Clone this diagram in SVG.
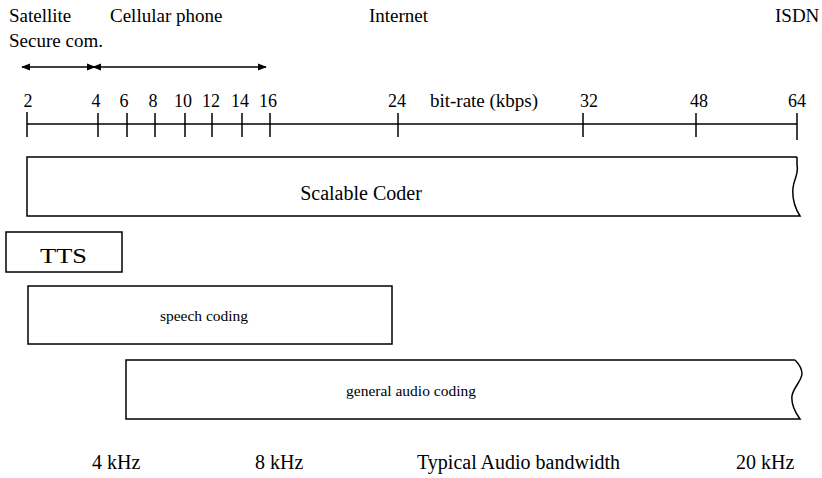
<svg xmlns="http://www.w3.org/2000/svg" width="822" height="478" viewBox="0 0 822 478">
<defs>
<style>
text{font-family:"Liberation Serif","Times New Roman",serif;fill:#000}
.t19{font-size:19px}
.t18{font-size:18px}
.t20{font-size:20px}
.box{fill:none;stroke:#000;stroke-width:1.5}
.ln{stroke:#000;stroke-width:1.5;fill:none}
</style>
<marker id="ah" viewBox="0 0 10 10" refX="9" refY="5" markerWidth="9" markerHeight="9" orient="auto-start-reverse" markerUnits="userSpaceOnUse">
<path d="M0,1 L10,5 L0,9 z" fill="#000"/>
</marker>
</defs>
<rect width="822" height="478" fill="#fff"/>

<g id="labels-top" class="t19">
<text x="9" y="22">Satellite</text>
<text x="9" y="47">Secure com.</text>
<text x="110" y="22">Cellular phone</text>
<text x="369" y="22">Internet</text>
<text x="775" y="22">ISDN</text>
</g>

<g id="connectors">
<line class="ln" x1="22" y1="67" x2="95" y2="67" marker-start="url(#ah)" marker-end="url(#ah)"/>
<line class="ln" x1="93" y1="67" x2="266" y2="67" marker-start="url(#ah)" marker-end="url(#ah)"/>
</g>

<g id="axis">
<line class="ln" x1="27" y1="124" x2="797" y2="124"/>
<g class="ln">
<line x1="27" y1="112" x2="27" y2="137"/>
<line x1="98" y1="113" x2="98" y2="137"/>
<line x1="127" y1="113" x2="127" y2="137"/>
<line x1="155" y1="113" x2="155" y2="137"/>
<line x1="185" y1="113" x2="185" y2="137"/>
<line x1="212" y1="113" x2="212" y2="137"/>
<line x1="242" y1="113" x2="242" y2="137"/>
<line x1="270" y1="113" x2="270" y2="137"/>
<line x1="398" y1="113" x2="398" y2="137"/>
<line x1="583" y1="113" x2="583" y2="137"/>
<line x1="696" y1="113" x2="696" y2="137"/>
<line x1="797" y1="113" x2="797" y2="140"/>
</g>
<g class="t18" text-anchor="middle">
<text x="28" y="107">2</text>
<text x="96" y="107">4</text>
<text x="124" y="107">6</text>
<text x="153" y="107">8</text>
<text x="183" y="107">10</text>
<text x="211" y="107">12</text>
<text x="240" y="107">14</text>
<text x="268" y="107">16</text>
<text x="397" y="107">24</text>
<text x="589" y="107">32</text>
<text x="699" y="107">48</text>
<text x="797" y="107">64</text>
</g>
<text class="t19" x="484" y="107" text-anchor="middle">bit-rate (kbps)</text>
</g>

<g id="scalable-coder">
<path class="box" d="M797,157 L27,157 L27,216 L800,216 C795,208 792,198 793,188 C794,178 799,175 797,165 L797,157"/>
<text class="t20" x="361" y="200" text-anchor="middle">Scalable Coder</text>
</g>

<g id="tts">
<rect class="box" x="6" y="232" width="116" height="40"/>
<text x="40" y="263" font-size="22" textLength="47" lengthAdjust="spacingAndGlyphs">TTS</text>
</g>

<g id="speech-coding">
<rect class="box" x="28" y="286" width="364" height="58"/>
<text x="204" y="321" font-size="15.5" text-anchor="middle">speech coding</text>
</g>

<g id="general-audio-coding">
<path class="box" d="M795,360 L126,360 L126,419 L800,419 C795,412 791,404 792,396 C793,388 801,382 802,374 C802,367 798,363 795,360"/>
<text x="411" y="396" font-size="15.5" text-anchor="middle">general audio coding</text>
</g>

<g id="labels-bottom" class="t20">
<text x="92" y="469">4 kHz</text>
<text x="255" y="469">8 kHz</text>
<text x="417" y="469">Typical Audio bandwidth</text>
<text x="736" y="469">20 kHz</text>
</g>
</svg>
